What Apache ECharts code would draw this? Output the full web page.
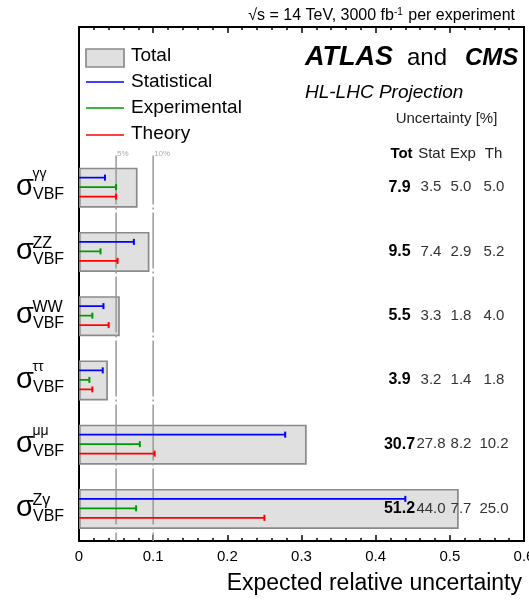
<!DOCTYPE html>
<html>
<head>
<meta charset="utf-8">
<script src="https://cdn.jsdelivr.net/npm/echarts@6/dist/echarts.min.js"></script>
<style>
  html, body { margin: 0; padding: 0; background: #fff; }
  #chart { width: 529px; height: 606px; }
</style>
</head>
<body>
<div id="chart"></div>
<script>
// VBF Higgs cross-section channels (superscript of sigma_VBF), top to bottom
const categories = ['γγ', 'ZZ', 'WW', 'ττ', 'μμ', 'Zγ'];
// Uncertainties in percent
const totUnc  = [7.9, 9.5, 5.5, 3.9, 30.7, 51.2];
const statUnc = [3.5, 7.4, 3.3, 3.2, 27.8, 44.0];
const expUnc  = [5.0, 2.9, 1.8, 1.4, 8.2, 7.7];
const thUnc   = [5.0, 5.2, 4.0, 1.8, 10.2, 25.0];
// Axis tick labels
const xTickLabels = ['0', '0.1', '0.2', '0.3', '0.4', '0.5', '0.6'];
// Reference lines
const refValues = [0.05, 0.10];
const refLabels = ['5%', '10%'];
// Table header
const tableHeader = ['Tot', 'Stat', 'Exp', 'Th'];

const FONT = "'Liberation Sans', Arial, Helvetica, sans-serif";
const PAD = 2; // empty bands above the first channel (legend area)
const yCats = Array(PAD).fill('').concat(categories);
const idx = (i) => i + PAD;

const chart = echarts.init(document.getElementById('chart'), null, { renderer: 'canvas' });

function errSeries(name, values, color, dy) {
  return {
    type: 'custom',
    name: name,
    silent: true,
    z: 5,
    encode: { x: 0, y: 1 },
    data: values.map((v, i) => [v / 100, idx(i)]),
    renderItem: function (params, api) {
      const c = api.value(1);
      const p0 = api.coord([0, c]);
      const p1 = api.coord([api.value(0), c]);
      const y = p0[1] + dy;
      return {
        type: 'group',
        children: [
          { type: 'line', shape: { x1: p0[0], y1: y, x2: p1[0], y2: y }, style: { stroke: color, lineWidth: 1.7 } },
          { type: 'line', shape: { x1: p1[0], y1: y - 3, x2: p1[0], y2: y + 3 }, style: { stroke: color, lineWidth: 2 } }
        ]
      };
    }
  };
}

const option = {
  animation: false,
  grid: { left: 79, right: 5, top: 27, bottom: 65, outerBoundsMode: 'none', containLabel: false,
          show: true, borderColor: '#000', borderWidth: 2, backgroundColor: 'transparent' },
  xAxis: [
    {
      type: 'value', min: 0, max: 0.6, interval: 0.1, position: 'bottom',
      axisLine: { show: true, onZero: false, lineStyle: { color: '#000', width: 2 } },
      axisTick: { show: true, inside: true, length: 6, lineStyle: { color: '#000', width: 1.5 } },
      minorTick: { show: true, splitNumber: 5, length: 3, lineStyle: { color: '#000', width: 1.5 } },
      splitLine: { show: false },
      axisLabel: {
        margin: 8, color: '#000', fontSize: 15, fontFamily: FONT, hideOverlap: false,
        showMinLabel: true, showMaxLabel: true,
        formatter: (v) => xTickLabels[Math.round(v * 10)]
      }
    },
    {
      type: 'value', min: 0, max: 0.6, interval: 0.1, position: 'top',
      axisLine: { show: true, onZero: false, lineStyle: { color: '#000', width: 2 } },
      axisTick: { show: true, inside: true, length: 6, lineStyle: { color: '#000', width: 1.5 } },
      minorTick: { show: true, splitNumber: 5, length: 3, lineStyle: { color: '#000', width: 1.5 } },
      splitLine: { show: false },
      axisLabel: { show: false }
    }
  ],
  yAxis: {
    type: 'category', data: yCats, inverse: true,
    axisLine: { show: true, lineStyle: { color: '#000', width: 2 } },
    axisTick: { show: false },
    axisLabel: { show: false },
    splitLine: { show: false }
  },
  series: [
    {
      type: 'bar', name: 'Total', silent: true, barWidth: 40, z: 2,
      data: Array(PAD).fill('-').concat(totUnc.map(v => v / 100)),
      itemStyle: { color: '#e0e0e0', borderColor: '#8a8a8a', borderWidth: 1.7 }
    },
    // dash-dotted 5% / 10% reference lines
    {
      type: 'custom', name: 'ref', silent: true, z: 3,
      encode: { x: 0 },
      data: refValues.map((v, i) => [v, i]),
      renderItem: function (params, api) {
        const v = api.value(0);
        const band = api.size([0, 1])[1];
        const top = api.coord([v, idx(0)]);
        const bot = api.coord([v, yCats.length - 1]);
        const y1 = top[1] - band / 2;
        const y2 = bot[1] + band / 2;
        return {
          type: 'group',
          children: [
            { type: 'line', shape: { x1: top[0], y1: y1, x2: top[0], y2: y2 },
              style: { stroke: '#999', lineWidth: 1.5, lineDash: [56, 3, 2, 3], lineDashOffset: 7 } },
            { type: 'text', style: { text: refLabels[params.dataIndex], x: top[0] + 1, y: y1 - 2,
              align: 'left', verticalAlign: 'middle', font: '8px ' + FONT, fill: '#aaa' } }
          ]
        };
      }
    },
    errSeries('Statistical', statUnc, '#0000ff', -10),
    errSeries('Experimental', expUnc, '#009900', -0.5),
    errSeries('Theory', thUnc, '#ff0000', 9),
    // channel labels: sigma with superscript channel and VBF subscript
    {
      type: 'custom', name: 'labels', silent: true, clip: false, z: 10,
      encode: { y: 1 },
      data: categories.map((c, i) => [0, idx(i)]),
      renderItem: function (params, api) {
        const p = api.coord([0, api.value(1)]);
        const sup = categories[params.dataIndex];
        const latin = /[A-Z]/.test(sup);
        return {
          type: 'group',
          children: [
            { type: 'text', style: { text: 'σ', x: p[0] - 63, y: p[1] - 0.8, align: 'left', verticalAlign: 'middle', font: '29px ' + FONT, fill: '#000' } },
            { type: 'text', style: { text: sup, x: p[0] - 46.5, y: p[1] + (latin ? -8.3 : -13.4), align: 'left', verticalAlign: 'middle', font: (latin ? '16px ' : '14px ') + FONT, fill: '#000' } },
            { type: 'text', style: { text: 'VBF', x: p[0] - 46, y: p[1] + 7.4, align: 'left', verticalAlign: 'middle', font: '16px ' + FONT, fill: '#000' } }
          ]
        };
      }
    },
    // numeric uncertainty table on the right
    {
      type: 'custom', name: 'table', silent: true, clip: false, z: 10,
      encode: { y: 1 },
      data: categories.map((c, i) => [0, idx(i)]),
      renderItem: function (params, api) {
        const p = api.coord([0, api.value(1)]);
        const i = params.dataIndex;
        const cols = [
          { t: totUnc[i], x: 399.5, f: 'bold 16px ' + FONT, c: '#000' },
          { t: statUnc[i], x: 431, f: '15px ' + FONT, c: '#333' },
          { t: expUnc[i], x: 461, f: '15px ' + FONT, c: '#333' },
          { t: thUnc[i], x: 494, f: '15px ' + FONT, c: '#333' }
        ];
        return {
          type: 'group',
          children: cols.map(o => ({
            type: 'text',
            style: { text: o.t.toFixed(1), x: o.x, y: p[1] - 0.5, align: 'center', verticalAlign: 'middle', font: o.f, fill: o.c }
          }))
        };
      }
    }
  ],
  graphic: [
    // energy / luminosity caption
    { type: 'text', right: 14, top: 7, style: {
        text: '{n|√s = 14 TeV, 3000 fb}{s|-1}{n| per experiment}',
        rich: { n: { font: '16px ' + FONT, fill: '#000' }, s: { font: '10px ' + FONT, fill: '#000', verticalAlign: 'top', padding: [0, 1, 7, 0] } } } },
    // legend
    { type: 'rect', shape: { x: 86, y: 49, width: 38, height: 18 }, style: { fill: '#e0e0e0', stroke: '#8a8a8a', lineWidth: 1.7 } },
    { type: 'text', x: 131, y: 56, style: { text: 'Total', font: '19px ' + FONT, fill: '#000', verticalAlign: 'middle' } },
    { type: 'line', shape: { x1: 86, y1: 82, x2: 124, y2: 82 }, style: { stroke: '#0000ff', lineWidth: 1.7 } },
    { type: 'text', x: 131, y: 82, style: { text: 'Statistical', font: '19px ' + FONT, fill: '#000', verticalAlign: 'middle' } },
    { type: 'line', shape: { x1: 86, y1: 108, x2: 124, y2: 108 }, style: { stroke: '#009900', lineWidth: 1.7 } },
    { type: 'text', x: 131, y: 107.5, style: { text: 'Experimental', font: '19px ' + FONT, fill: '#000', verticalAlign: 'middle' } },
    { type: 'line', shape: { x1: 86, y1: 135, x2: 124, y2: 135 }, style: { stroke: '#ff0000', lineWidth: 1.7 } },
    { type: 'text', x: 131, y: 134, style: { text: 'Theory', font: '19px ' + FONT, fill: '#000', verticalAlign: 'middle' } },
    // experiment labels
    { type: 'text', x: 305, y: 58, style: { text: 'ATLAS', font: 'italic bold 27px ' + FONT, fill: '#000', verticalAlign: 'middle' } },
    { type: 'text', x: 407, y: 58, style: { text: 'and', font: '24px ' + FONT, fill: '#000', verticalAlign: 'middle' } },
    { type: 'text', x: 465, y: 58, style: { text: 'CMS', font: 'italic bold 24px ' + FONT, fill: '#000', verticalAlign: 'middle' } },
    { type: 'text', x: 305, y: 92.5, style: { text: 'HL-LHC Projection', font: 'italic 19px ' + FONT, fill: '#000', verticalAlign: 'middle' } },
    { type: 'text', x: 446.5, y: 119, style: { text: 'Uncertainty [%]', font: '15px ' + FONT, fill: '#222', align: 'center', verticalAlign: 'middle' } },
    // table header
    { type: 'text', x: 401.5, y: 154, style: { text: tableHeader[0], font: 'bold 15px ' + FONT, fill: '#000', align: 'center', verticalAlign: 'middle' } },
    { type: 'text', x: 431.5, y: 154, style: { text: tableHeader[1], font: '15px ' + FONT, fill: '#222', align: 'center', verticalAlign: 'middle' } },
    { type: 'text', x: 463, y: 154, style: { text: tableHeader[2], font: '15px ' + FONT, fill: '#222', align: 'center', verticalAlign: 'middle' } },
    { type: 'text', x: 493.5, y: 154, style: { text: tableHeader[3], font: '15px ' + FONT, fill: '#222', align: 'center', verticalAlign: 'middle' } },
    // x-axis title
    { type: 'text', x: 522, y: 584, style: { text: 'Expected relative uncertainty', font: '23px ' + FONT, fill: '#000', align: 'right', verticalAlign: 'middle' } }
  ]
};

chart.setOption(option);
</script>
</body>
</html>
